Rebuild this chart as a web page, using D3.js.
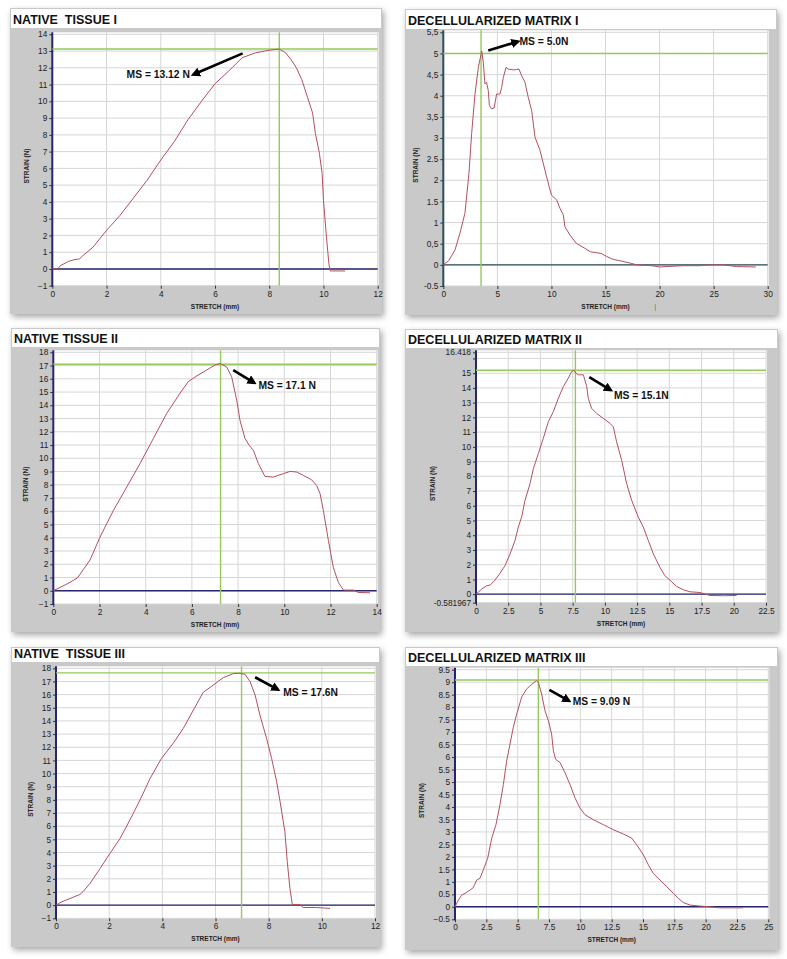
<!DOCTYPE html>
<html>
<head>
<meta charset="utf-8">
<script src="https://cdn.jsdelivr.net/npm/d3@7"></script>
<style>
  body { margin: 0; background: #ffffff; }
  svg { display: block; font-family: "Liberation Sans", Arial, sans-serif; }
</style>
</head>
<body>
<svg id="chart" width="787" height="959"></svg>
<script>
// ---- data ----
const nt1Stretch = [0,0.2,0.3,0.6,0.8,1.0,1.1,1.5,2.0,2.5,3.0,3.5,4.0,4.5,5.0,5.5,6.0,6.5,7.0,7.5,8.0,8.37,8.6,8.8,9.0,9.2,9.4,9.6,9.7,9.85,9.95,10.0,10.1,10.2,10.25,10.8];
const nt1Strain  = [0,0,0.2,0.45,0.55,0.6,0.75,1.3,2.3,3.2,4.25,5.3,6.5,7.6,8.9,10.0,11.05,11.8,12.6,12.9,13.05,13.12,12.9,12.5,12.0,11.3,10.3,9.3,8.1,6.9,5.7,4.1,2.1,0.3,-0.12,-0.12];

const dm1Stretch = [0,0.5,1.08,1.54,2.0,2.37,2.62,2.93,3.24,3.49,3.55,3.7,3.85,4.0,4.16,4.26,4.47,4.7,4.93,5.24,5.4,5.55,5.8,6.0,6.5,6.78,7.0,7.25,7.55,7.86,8.17,8.48,8.94,9.4,9.8,10.0,10.5,10.8,11.1,11.25,11.7,12.3,13.1,13.6,14.6,15.1,15.7,16.3,17.3,17.9,19.3,20.0,20.7,22.2,23.7,24.7,25.9,27.1,28.9];
const dm1Strain  = [0,0.1,0.35,0.75,1.22,2.16,3.1,4.04,4.67,4.98,5.06,4.79,4.28,4.32,4.12,3.77,3.69,3.71,4.04,4.04,4.2,4.43,4.67,4.63,4.61,4.62,4.63,4.47,4.32,3.96,3.65,3.02,2.71,2.24,1.84,1.65,1.53,1.33,1.18,0.9,0.71,0.51,0.39,0.31,0.27,0.2,0.13,0.1,0.04,0,-0.02,-0.05,-0.04,-0.02,-0.02,0,0,-0.04,-0.05];

const nt2Stretch = [0,0.58,1.04,1.59,2.02,2.6,3.18,3.75,4.33,4.91,5.48,5.84,6.2,6.64,7.0,7.22,7.5,7.72,7.94,8.08,8.3,8.48,8.66,8.88,9.16,9.52,9.96,10.25,10.54,10.82,11.18,11.4,11.55,11.69,11.91,12.12,12.34,12.56,12.99,13.2,13.71];
const nt2Strain  = [0,0.5,0.96,2.32,4.04,6.06,7.83,9.59,11.49,13.38,14.9,15.78,16.21,16.66,17.04,17.15,16.9,16.16,14.39,12.88,11.49,10.98,10.6,9.59,8.63,8.58,8.84,9.01,8.96,8.71,8.38,7.95,7.32,6.06,3.79,1.77,0.63,0.05,0.05,-0.13,-0.15];

const dm2Stretch = [0,0.44,0.83,1.09,1.47,1.86,2.25,2.64,3.03,3.28,3.54,3.8,4.19,4.45,4.84,5.22,5.61,6.0,6.39,6.78,7.16,7.42,7.6,7.75,7.94,8.33,8.59,8.71,8.97,9.36,9.88,10.4,10.65,10.91,11.3,11.69,12.08,12.59,12.98,13.37,13.76,14.27,14.66,15.05,15.57,16.08,16.6,17.38,17.77,18.15,19.19,20.22];
const dm2Strain  = [0,0.34,0.57,0.61,0.95,1.41,1.93,2.73,3.64,4.55,5.23,6.36,7.5,8.52,9.55,10.57,11.7,12.39,13.3,14.09,14.66,15.11,15.2,15.0,14.89,14.89,14.09,13.3,12.61,12.27,11.93,11.59,11.36,10.34,9.09,7.5,6.36,5.23,4.55,3.64,2.73,1.82,1.25,0.95,0.52,0.3,0.16,0.11,0,-0.09,-0.11,-0.09];

const nt3Stretch = [0,0.21,0.53,0.9,1.03,1.28,1.66,2.03,2.41,2.78,3.16,3.54,3.97,4.41,4.79,5.17,5.54,5.92,6.29,6.67,6.92,7.11,7.3,7.49,7.67,7.92,8.11,8.3,8.43,8.55,8.61,8.7,8.8,8.89,9.18,9.3,9.81,10.31];
const nt3Strain  = [0,0.25,0.51,0.81,1.06,1.65,2.79,3.93,5.07,6.47,7.99,9.63,11.16,12.3,13.44,14.83,16.18,16.73,17.29,17.6,17.62,17.55,16.99,15.97,14.45,12.68,11.16,9.38,7.86,6.34,5.58,3.3,1.27,0.05,0.05,-0.18,-0.18,-0.25];

const dm3Stretch = [0,0.27,0.53,0.8,1.2,1.46,1.73,1.99,2.26,2.61,2.93,3.27,3.59,3.86,4.12,4.39,4.65,4.92,5.32,5.72,6.12,6.52,6.65,6.91,7.18,7.45,7.71,7.85,8.03,8.38,8.78,9.18,9.57,9.97,10.37,11.04,11.84,12.63,13.43,14.1,14.49,15.03,15.43,15.82,16.36,16.89,17.42,17.82,18.22,18.75,19.55,20.35,21.14,23.0];
const dm3Strain  = [0,0.27,0.47,0.54,0.67,0.77,1.07,1.14,1.48,1.95,2.75,3.29,4.1,4.9,5.84,6.52,7.19,7.72,8.4,8.73,8.91,9.07,9.0,8.53,7.86,7.46,6.92,6.25,5.91,5.78,5.37,4.9,4.37,3.96,3.69,3.49,3.29,3.09,2.92,2.75,2.49,2.08,1.68,1.34,1.07,0.81,0.54,0.34,0.17,0.07,0.03,0,-0.04,-0.04];

// titles
const panelTitles = ["NATIVE  TISSUE I", "DECELLULARIZED MATRIX I", "NATIVE TISSUE II",
                     "DECELLULARIZED MATRIX II", "NATIVE  TISSUE III", "DECELLULARIZED MATRIX III"];

// axis ticks
const nt1XTicks = [0,2,4,6,8,10,12];
const nt1YTicks = [-1,0,1,2,3,4,5,6,7,8,9,10,11,12,13,14];
const dm1XTicks = [0,5,10,15,20,25,30];
const dm1YTicks = [-0.5,0,0.5,1,1.5,2,2.5,3,3.5,4,4.5,5,5.5];
const dm1YLabels = ["-0.5","0","0,5","1","1.5","2","2.5","3","3,5","4","4,5","5","5,5"];
const nt2XTicks = [0,2,4,6,8,10,12,14];
const nt2YTicks = [-1,0,1,2,3,4,5,6,7,8,9,10,11,12,13,14,15,16,17,18];
const dm2XTicks = [0,2.5,5,7.5,10,12.5,15,17.5,20,22.5];
const dm2YTicks = [-0.581967,0,1,2,3,4,5,6,7,8,9,10,11,12,13,14,15,16,16.418];
const dm2YLabels = ["-0.581967","0","1","2","3","4","5","6","7","8","9","10","11","12","13","14","15","","16.418"];
const nt3XTicks = [0,2,4,6,8,10,12];
const nt3YTicks = nt2YTicks;
const dm3XTicks = [0,2.5,5,7.5,10,12.5,15,17.5,20,22.5,25];
const dm3YTicks = [-0.5,0,0.5,1,1.5,2,2.5,3,3.5,4,4.5,5,5.5,6,6.5,7,7.5,8,8.5,9,9.5];

// maximum strength (crosshair) per panel
const peakStretch = [8.37, 3.49, 7.24, 7.71, 6.98, 6.65];
const peakStrain  = [13.12, 5.0, 17.1, 15.2, 17.65, 9.09];
const msLabels = ["MS = 13.12 N", "MS = 5.0N", "MS = 17.1 N", "MS = 15.1N", "MS = 17.6N", "MS = 9.09 N"];

// ---- layout (pixels) ----
const panels = [
  {frame:[10,8,382,314],  strip:19, plot:[52.3,377.7,34.3,285.7], xDom:[0,12], yDom:[-1,14], stretch:nt1Stretch, strain:nt1Strain, xt:nt1XTicks, yt:nt1YTicks, yl:null, ylabX:27, axis:"#26266e",
   note:{tx:2.74, ty:11.55, from:[7.02,12.86], to:[5.2,11.6]}},
  {frame:[405,9,777,315], strip:19, plot:[443.3,767.7,32.3,286], xDom:[0,30], yDom:[-0.5,5.5], stretch:dm1Stretch, strain:dm1Strain, xt:dm1XTicks, yt:dm1YTicks, yl:dm1YLabels, ylabX:416, axis:"#2b4e5e",
   note:{tx:7.05, ty:5.26, from:[4.16,5.07], to:[6.9,5.28]}},
  {frame:[11,328,380,632], strip:18, plot:[53.3,376.7,352.3,604], xDom:[0,14], yDom:[-1,18], stretch:nt2Stretch, strain:nt2Strain, xt:nt2XTicks, yt:nt2YTicks, yl:null, ylabX:26, axis:"#26266e",
   note:{tx:8.88, ty:15.4, from:[7.79,16.66], to:[8.7,15.7]}},
  {frame:[405,329,778,632], strip:18, plot:[476,766,352.3,602.7], xDom:[0,22.5], yDom:[-0.581967,16.418], stretch:dm2Stretch, strain:dm2Strain, xt:dm2XTicks, yt:dm2YTicks, yl:dm2YLabels, ylabX:433, axis:"#26266e",
   note:{tx:10.7, ty:13.45, from:[8.79,14.73], to:[10.45,13.85]}},
  {frame:[11,647,380,947], strip:14, plot:[56,375,668.3,918.3], xDom:[0,12], yDom:[-1,18], stretch:nt3Stretch, strain:nt3Strain, xt:nt3XTicks, yt:nt3YTicks, yl:null, ylabX:31, axis:"#26266e",
   note:{tx:8.55, ty:16.1, from:[7.49,17.32], to:[8.35,16.38]}},
  {frame:[405,647,778,950], strip:18, plot:[455,768.3,669.7,919.3], xDom:[0,25], yDom:[-0.5,9.5], stretch:dm3Stretch, strain:dm3Strain, xt:dm3XTicks, yt:dm3YTicks, yl:null, ylabX:422, axis:"#26266e",
   note:{tx:9.39, ty:8.19, from:[7.53,8.69], to:[9.1,8.25]}}
];

const svg = d3.select("#chart");
const defs = svg.append("defs");
defs.append("filter").attr("id", "shadow").attr("x", "-5%").attr("y", "-5%").attr("width", "112%").attr("height", "112%")
  .append("feDropShadow").attr("dx", 2).attr("dy", 3).attr("stdDeviation", 3)
  .attr("flood-color", "#000").attr("flood-opacity", 0.35);
defs.append("marker").attr("id", "arrow").attr("viewBox", "0 0 10 10")
  .attr("refX", 7).attr("refY", 5).attr("markerWidth", 3.6).attr("markerHeight", 3.6)
  .attr("orient", "auto")
  .append("path").attr("d", "M0,0 L10,5 L0,10 z").attr("fill", "#000");

panels.forEach((p, i) => {
  const [fx0, fy0, fx1, fy1] = p.frame;
  const [L, R, T, B] = p.plot;
  const g = svg.append("g");

  // gray frame + white title strip
  g.append("rect").attr("x", fx0).attr("y", fy0).attr("width", fx1 - fx0).attr("height", fy1 - fy0)
    .attr("fill", "#c9c9c9").attr("filter", "url(#shadow)");
  g.append("rect").attr("x", fx0 + 1).attr("y", fy0 + 1).attr("width", fx1 - fx0 - 2).attr("height", p.strip)
    .attr("fill", "#ffffff");
  g.append("text").attr("x", fx0 + 3).attr("y", fy0 + p.strip - 3)
    .attr("font-size", 12.5).attr("font-weight", "bold").attr("fill", "#111")
    .attr("xml:space", "preserve").style("white-space", "pre")
    .text(panelTitles[i]);

  const x = d3.scaleLinear(p.xDom, [L, R]);
  const y = d3.scaleLinear(p.yDom, [B, T]);

  // plot background
  g.append("rect").attr("x", L).attr("y", T - 2).attr("width", R - L + 1).attr("height", B - T + 2)
    .attr("fill", "#ffffff");

  // grid
  g.append("g").selectAll("line").data(p.xt.slice(1)).join("line")
    .attr("x1", d => x(d)).attr("x2", d => x(d)).attr("y1", T - 2).attr("y2", B)
    .attr("stroke", "#d6d6d6").attr("stroke-width", 1);
  g.append("g").selectAll("line").data(p.yt).join("line")
    .attr("x1", L).attr("x2", R).attr("y1", d => y(d)).attr("y2", d => y(d))
    .attr("stroke", "#d6d6d6").attr("stroke-width", 1);

  // zero line
  g.append("line").attr("x1", L).attr("x2", R).attr("y1", y(0)).attr("y2", y(0))
    .attr("stroke", p.axis).attr("stroke-width", 1.4);

  // left axis
  const yAxis = d3.axisLeft(y).tickValues(p.yt).tickSize(3).tickPadding(2)
    .tickFormat((d, k) => p.yl ? p.yl[k] : d3.format("")(d));
  g.append("g").attr("transform", `translate(${L},0)`).call(yAxis)
    .call(a => a.select(".domain").remove())
    .call(a => a.selectAll(".tick line").attr("stroke", "#333"))
    .call(a => a.selectAll(".tick text").attr("font-size", 8.3).attr("fill", "#222")
      .attr("font-family", "Liberation Sans, Arial, sans-serif"));
  g.append("line").attr("x1", L).attr("x2", L).attr("y1", T - 2).attr("y2", B + 1)
    .attr("stroke", p.axis).attr("stroke-width", 2);

  // bottom axis (ticks + labels only)
  const xAxis = d3.axisBottom(x).tickValues(p.xt).tickSize(3).tickPadding(2)
    .tickFormat(d3.format(""));
  g.append("g").attr("transform", `translate(0,${B})`).call(xAxis)
    .call(a => a.select(".domain").remove())
    .call(a => a.selectAll(".tick line").attr("stroke", "#333"))
    .call(a => a.selectAll(".tick text").attr("font-size", 8.3).attr("fill", "#222")
      .attr("font-family", "Liberation Sans, Arial, sans-serif"));

  // axis titles
  g.append("text").attr("x", (L + R) / 2).attr("y", B + 23).attr("text-anchor", "middle")
    .attr("font-size", 6.5).attr("font-weight", "bold").attr("fill", "#222").text("STRETCH (mm)");
  g.append("text").attr("transform", `translate(${p.ylabX},${(T + B) / 2 + 6}) rotate(-90)`)
    .attr("text-anchor", "middle").attr("dominant-baseline", "middle")
    .attr("font-size", 6.5).attr("font-weight", "bold").attr("fill", "#222").text("STRAIN (N)");

  // green crosshair at maximum strength
  g.append("line").attr("x1", x(peakStretch[i])).attr("x2", x(peakStretch[i])).attr("y1", T - 2).attr("y2", B)
    .attr("stroke", "#95c95a").attr("stroke-width", 1.4);
  g.append("line").attr("x1", L).attr("x2", R).attr("y1", y(peakStrain[i])).attr("y2", y(peakStrain[i]))
    .attr("stroke", "#95c95a").attr("stroke-width", 1.4);

  // curve
  const line = d3.line().x(d => x(d[0])).y(d => y(d[1]));
  g.append("path").attr("d", line(d3.zip(p.stretch, p.strain)))
    .attr("fill", "none").attr("stroke", "#b3505f").attr("stroke-width", 1);

  // annotation
  const n = p.note;
  g.append("line").attr("x1", x(n.from[0])).attr("y1", y(n.from[1]))
    .attr("x2", x(n.to[0])).attr("y2", y(n.to[1]))
    .attr("stroke", "#000").attr("stroke-width", 2.6).attr("marker-end", "url(#arrow)");
  g.append("text").attr("x", x(n.tx)).attr("y", y(n.ty)).attr("dominant-baseline", "middle")
    .attr("font-size", 10.3).attr("font-weight", "bold").attr("fill", "#111").text(msLabels[i]);
});

// stray mark under the second panel's axis title
svg.append("text").attr("x", d3.scaleLinear([0, 30], [443.3, 767.7])(19.6)).attr("y", 309)
  .attr("text-anchor", "middle").attr("font-size", 8).attr("fill", "#777").text("|");
</script>
</body>
</html>
